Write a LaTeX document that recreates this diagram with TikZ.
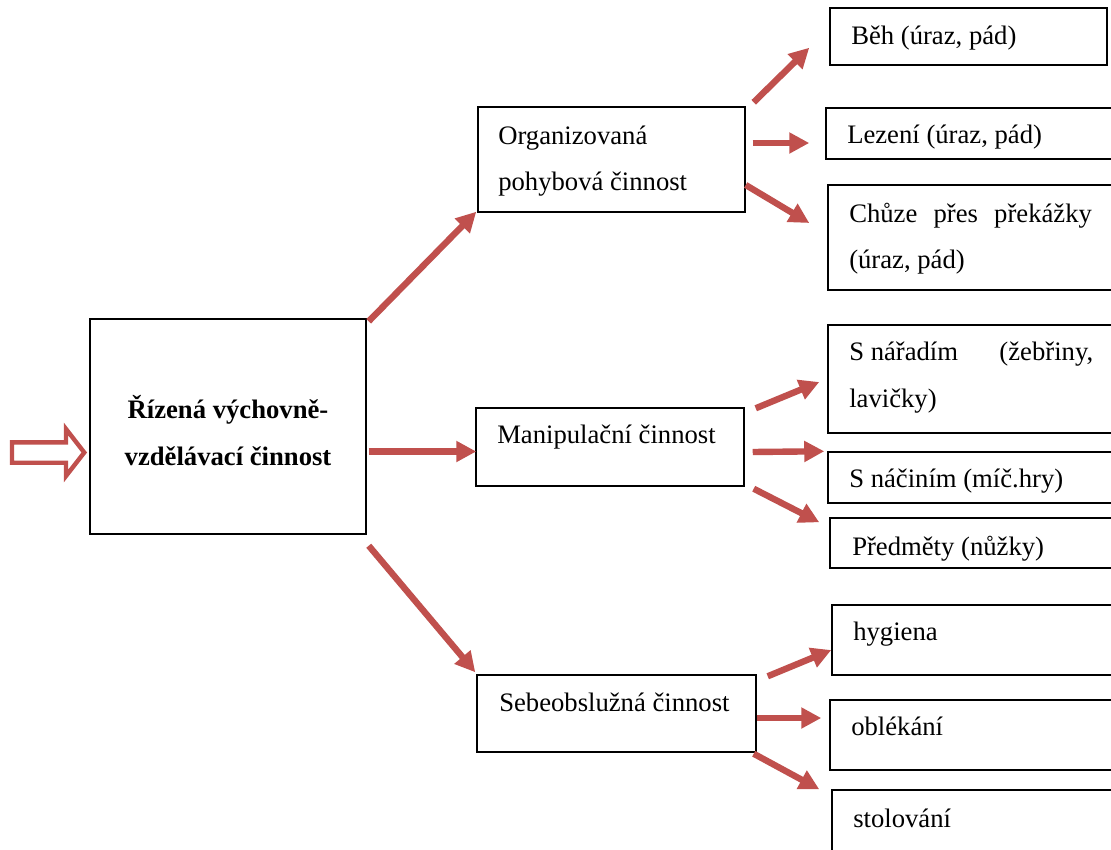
\documentclass[tikz,border=0pt]{standalone}
\usepackage{fontspec}
\setmainfont{Liberation Serif}
\usetikzlibrary{arrows.meta,fit,calc}
\definecolor{accentred}{RGB}{192,80,77}
\tikzset{
  box/.style={draw=black, line width=1.1pt, inner sep=0pt},
  txt/.style={anchor=base west, inner sep=0pt, font=\fontsize{20}{24}\selectfont},
  ctxt/.style={anchor=base, inner sep=0pt, font=\fontsize{20}{24}\selectfont\bfseries},
  arr/.style={draw=accentred, line width=4.8pt,
    -{Triangle[length=15pt,width=15pt]}},
}
\begin{document}
\begin{tikzpicture}[x=0.75pt, y=-0.75pt]
  \clip (0,0) rectangle (1111,850);
  \fill[white] (0,0) rectangle (1111,850);

  % central block
  \node[box, fit={(90,319) (366,534)}] (main) {};
  \node[ctxt] at (228,418) {Řízená výchovně-};
  \node[ctxt] at (228,465) {vzdělávací činnost};

  % incoming hollow block arrow
  \draw[accentred, line width=3.3pt, fill=white, line join=miter]
    (12,442.3) -- (66,442.3) -- (66,429) -- ($(main.west)+(-5,26)$)
    -- (66,476) -- (66,462.7) -- (12,462.7) -- cycle;

  % second level
  \node[box, fit={(478,107) (745,212)}] (org) {};
  \node[txt] at (498,144) {Organizovaná};
  \node[txt] at (498,190) {pohybová činnost};

  \node[box, fit={(476,408) (744,486)}] (manip) {};
  \node[txt] at (497,443) {Manipulační činnost};

  \node[box, fit={(477,675) (756,752)}] (seb) {};
  \node[txt] at (499,711) {Sebeobslužná činnost};

  % third level
  \node[box, fit={(830,8) (1107,65)}] (beh) {};
  \node[txt] at (851,44) {Běh (úraz, pád)};

  \node[box, fit={(826,108) (1118,159)}] (lez) {};
  \node[txt] at (847,143) {Lezení (úraz, pád)};

  \node[box, fit={(828,185) (1118,290)}] (chu) {};
  \node[txt] at (849,222) {\makebox[182pt][s]{Chůze přes překážky}};
  \node[txt] at (849,268) {(úraz, pád)};

  \node[box, fit={(828,325) (1118,433)}] (nar) {};
  \node[txt] at (849,360) {\makebox[183pt][s]{\mbox{S nářadím} (žebřiny,}};
  \node[txt] at (849,407) {lavičky)};

  \node[box, fit={(828,452) (1118,503)}] (nac) {};
  \node[txt] at (849,487) {S náčiním (míč.hry)};

  \node[box, fit={(830,518) (1118,568)}] (pre) {};
  \node[txt] at (852,555) {Předměty (nůžky)};

  \node[box, fit={(832,605) (1118,675)}] (hyg) {};
  \node[txt] at (853,640) {hygiena};

  \node[box, fit={(830,700) (1118,770)}] (obl) {};
  \node[txt] at (851,735) {oblékání};

  \node[box, fit={(832,790) (1118,870)}] (sto) {};
  \node[txt] at (853,827) {stolování};

  % connectors from the central block
  \draw[arr] ([shift={(2,3)}]main.north east) -- ([shift={(-1,-1)}]org.south west);
  \draw[arr] ([shift={(2,25)}]main.east) -- ([shift={(1,4.5)}]manip.west);
  \draw[arr] ([shift={(2,11)}]main.south east) -- ([shift={(-1,-2)}]seb.north west);

  % connectors from "Organizovaná pohybová činnost"
  \draw[arr] ([shift={(8,-4)}]org.north east) -- ([shift={(-20,-18)}]beh.south west);
  \draw[arr] ([shift={(7,-16.5)}]org.east) -- ([shift={(-16,9.5)}]lez.west);
  \draw[arr] ([shift={(0,25.5)}]org.east) -- ([shift={(-18,-14.5)}]chu.west);

  % connectors from "Manipulační činnost"
  \draw[arr] ([shift={(11,1)}]manip.north east) -- ([shift={(-8,3)}]nar.west);
  \draw[arr] ([shift={(8,5)}]manip.east) -- ([shift={(-3,0)}]nac.north west);
  \draw[arr] ([shift={(9,2)}]manip.south east) -- ([shift={(-10,5)}]pre.north west);

  % connectors from "Sebeobslužná činnost"
  \draw[arr] ([shift={(11,2)}]seb.north east) -- ([shift={(0,10)}]hyg.west);
  \draw[arr] ([shift={(0,4.5)}]seb.east) -- ([shift={(-8,-17)}]obl.west);
  \draw[arr] ([shift={(-3,1)}]seb.south east) -- ([shift={(-12,0)}]sto.north west);
\end{tikzpicture}
\end{document}
